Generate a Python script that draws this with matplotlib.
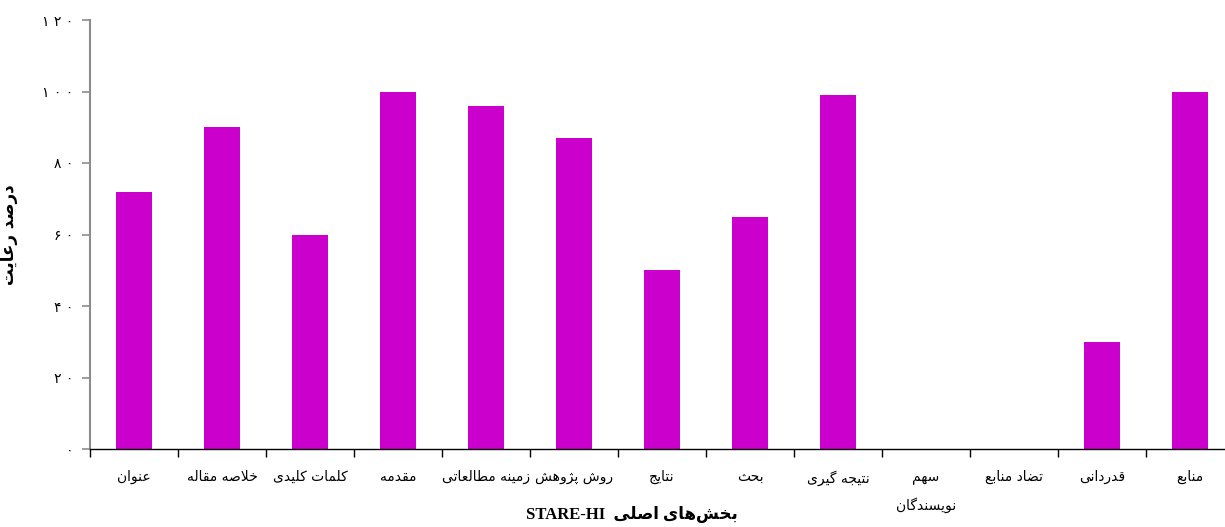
import numpy as np
import matplotlib
matplotlib.use("Agg")
import matplotlib.pyplot as plt
from matplotlib.ticker import FixedLocator

categories = ["عنوان", "خلاصه مقاله", "کلمات کلیدی", "مقدمه", "زمینه مطالعاتی",
              "روش پژوهش", "نتایج", "بحث", "نتیجه گیری", "سهم\nنویسندگان",
              "تضاد منابع", "قدردانی", "منابع"]
values = [72, 90, 60, 100, 96, 87, 50, 65, 99, 0, 0, 30, 100]
y_ticks = [0, 20, 40, 60, 80, 100, 120]
y_label = "درصد رعایت"
x_label_fa = "بخش‌های اصلی"
x_label_en = "STARE-HI"

# matplotlib has no Arabic shaping, so pick presentation forms by hand
# (isolated, final, initial, medial)
FORMS = {
    'ا': ('\uFE8D', '\uFE8E', None, None),
    'ب': ('\uFE8F', '\uFE90', '\uFE91', '\uFE92'),
    'پ': ('\uFB56', '\uFB57', '\uFB58', '\uFB59'),
    'ت': ('\uFE95', '\uFE96', '\uFE97', '\uFE98'),
    'ث': ('\uFE99', '\uFE9A', '\uFE9B', '\uFE9C'),
    'ج': ('\uFE9D', '\uFE9E', '\uFE9F', '\uFEA0'),
    'ح': ('\uFEA1', '\uFEA2', '\uFEA3', '\uFEA4'),
    'خ': ('\uFEA5', '\uFEA6', '\uFEA7', '\uFEA8'),
    'د': ('\uFEA9', '\uFEAA', None, None),
    'ر': ('\uFEAD', '\uFEAE', None, None),
    'ز': ('\uFEAF', '\uFEB0', None, None),
    'ژ': ('\uFB8A', '\uFB8B', None, None),
    'س': ('\uFEB1', '\uFEB2', '\uFEB3', '\uFEB4'),
    'ش': ('\uFEB5', '\uFEB6', '\uFEB7', '\uFEB8'),
    'ص': ('\uFEB9', '\uFEBA', '\uFEBB', '\uFEBC'),
    'ض': ('\uFEBD', '\uFEBE', '\uFEBF', '\uFEC0'),
    'ط': ('\uFEC1', '\uFEC2', '\uFEC3', '\uFEC4'),
    'ع': ('\uFEC9', '\uFECA', '\uFECB', '\uFECC'),
    'ق': ('\uFED5', '\uFED6', '\uFED7', '\uFED8'),
    'ک': ('\uFB8E', '\uFB8F', '\uFB90', '\uFB91'),
    'گ': ('\uFB92', '\uFB93', '\uFB94', '\uFB95'),
    'ل': ('\uFEDD', '\uFEDE', '\uFEDF', '\uFEE0'),
    'م': ('\uFEE1', '\uFEE2', '\uFEE3', '\uFEE4'),
    'ن': ('\uFEE5', '\uFEE6', '\uFEE7', '\uFEE8'),
    'ه': ('\uFEE9', '\uFEEA', '\uFEEB', '\uFEEC'),
    'و': ('\uFEED', '\uFEEE', None, None),
    'ی': ('\uFBFC', '\uFBFD', '\uFBFE', '\uFBFF'),
}
FA_DIGITS = str.maketrans("0123456789", "۰۱۲۳۴۵۶۷۸۹")


def joins_next(c):
    return c in FORMS and FORMS[c][2] is not None


def shape_line(text):
    out = []
    i = 0
    n = len(text)
    while i < n:
        c = text[i]
        if c not in FORMS:
            if c != '\u200c':
                out.append(c)
            i += 1
            continue
        jp = i > 0 and joins_next(text[i - 1])
        if c == 'ل' and i + 1 < n and text[i + 1] == 'ا':
            out.append('\uFEFC' if jp else '\uFEFB')
            i += 2
            continue
        jn = joins_next(c) and i + 1 < n and text[i + 1] in FORMS
        iso, fin, ini, med = FORMS[c]
        if jp and jn:
            out.append(med)
        elif jp:
            out.append(fin)
        elif jn:
            out.append(ini)
        else:
            out.append(iso)
        i += 1
    return ''.join(reversed(out))


def shape(text):
    return '\n'.join(shape_line(t) for t in text.split('\n'))


plt.rcParams['font.family'] = ['DejaVu Sans']

fig = plt.figure(figsize=(12.25, 5.27), dpi=100)
ax = fig.add_axes([90 / 1225, 1 - 449 / 527, 1144 / 1225, 429 / 527])

x = np.arange(len(categories))
ax.bar(x, values, width=0.4, color='#CC00CC', zorder=2)

ax.set_xlim(-0.5, len(categories) - 0.5)
ax.set_ylim(0, 120)

ax.set_xticks(x)
ax.set_xticklabels([shape(c) for c in categories], fontsize=10)
ax.tick_params(axis='x', which='major', length=0, pad=15)
ax.xaxis.set_minor_locator(FixedLocator(np.arange(len(categories)) - 0.5))
ax.tick_params(axis='x', which='minor', length=6, width=1, color='black')
ax.get_xticklabels()[9].set_linespacing(2.1)

ax.set_yticks(y_ticks)
ax.set_yticklabels([' '.join(str(v).translate(FA_DIGITS)) for v in y_ticks], fontsize=10)
ax.tick_params(axis='y', length=6, width=1.2, color='#8c8c8c', pad=6)

for side in ['top', 'right']:
    ax.spines[side].set_visible(False)
ax.spines['left'].set_color('#8c8c8c')
ax.spines['left'].set_linewidth(1.5)
ax.spines['bottom'].set_color('black')
ax.spines['bottom'].set_linewidth(1.0)

ax.set_ylabel(shape(y_label), fontsize=12, fontweight='bold')
ax.yaxis.set_label_coords(-0.063, 0.5)

ax.set_xlabel(x_label_en + "  " + shape(x_label_fa), fontsize=12, fontweight='bold',
              family=['Liberation Serif', 'DejaVu Sans'])
ax.xaxis.set_label_coords(0.474, -0.132)

fig.savefig("out.png", dpi=100)
